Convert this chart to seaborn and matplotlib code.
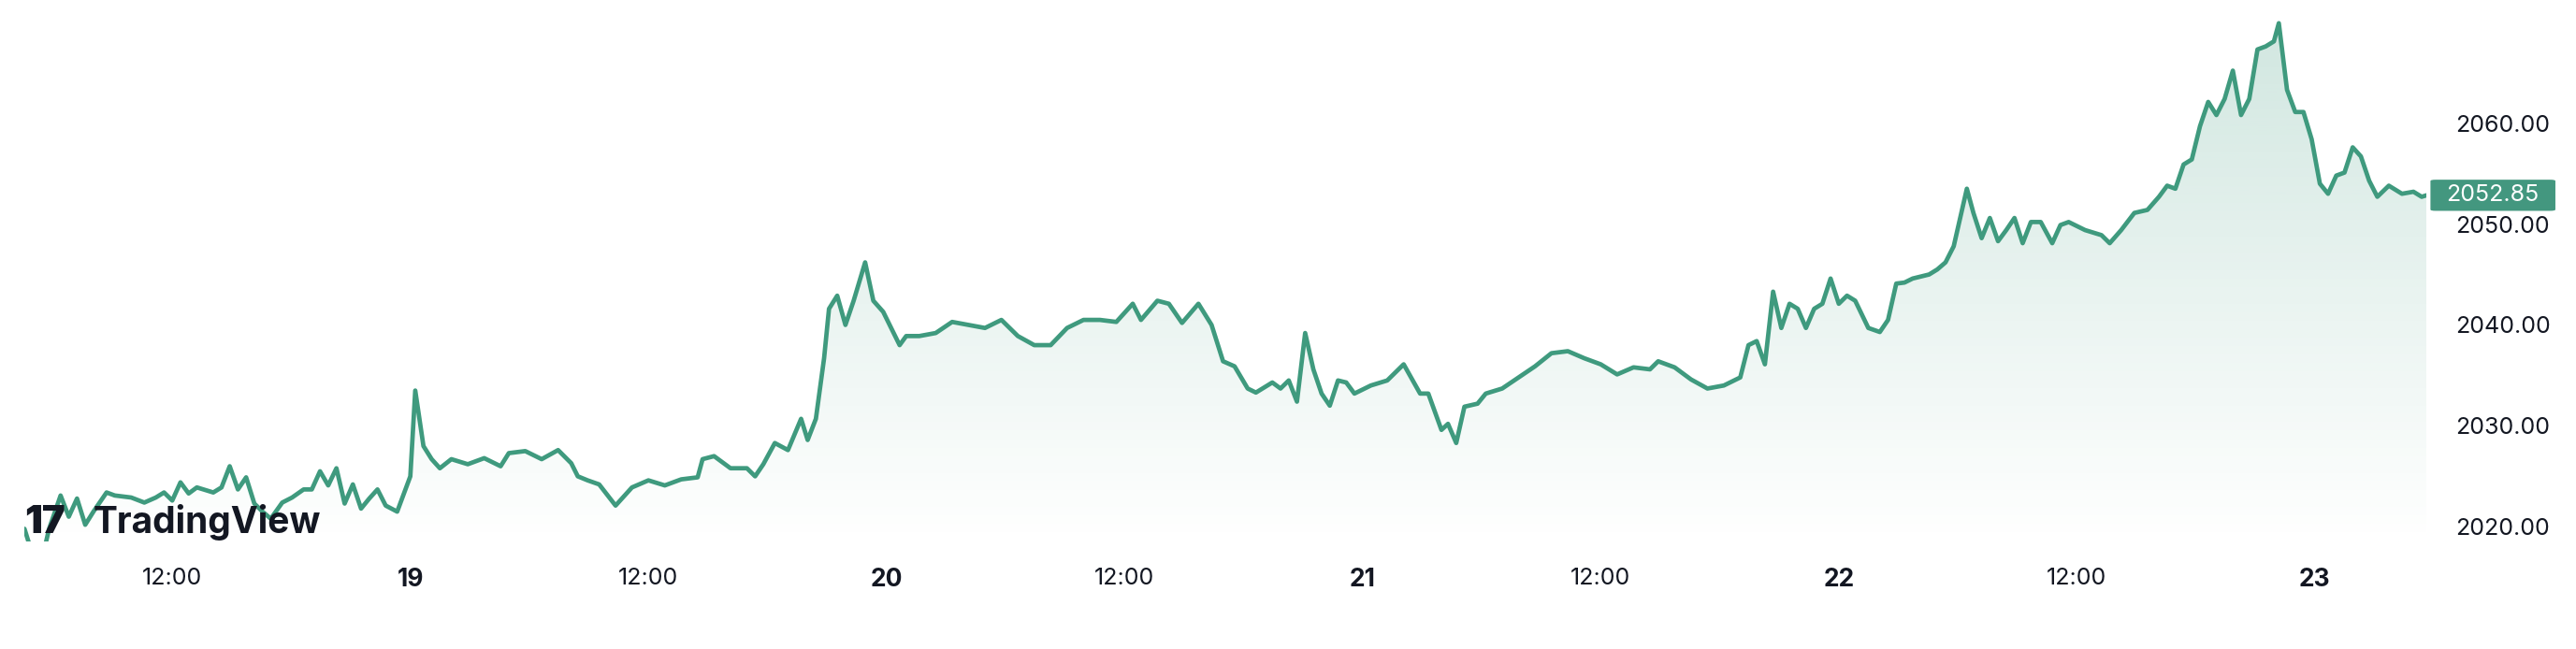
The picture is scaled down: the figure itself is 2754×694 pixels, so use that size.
import numpy as np
import pandas as pd
import matplotlib
matplotlib.use("Agg")
import matplotlib.pyplot as plt
import matplotlib.dates as mdates
from matplotlib.patches import Polygon, FancyBboxPatch
import seaborn as sns

prices = [
2019.8,2017.2,2017.7,2019.8,2023.1,2021.0,2022.8,2020.2,2021.5,2023.4,2023.1,2022.9,2022.4,2022.9,2023.4,2022.6,
2024.4,2023.3,2023.9,2023.4,2023.9,2026.0,2023.7,2024.9,2022.3,2021.5,2020.8,2022.4,2022.9,2023.7,2023.7,2025.5,
2024.1,2025.8,2022.3,2024.2,2021.8,2022.8,2023.7,2022.1,2021.5,2025.0,2033.5,2028.0,2026.7,2025.8,2026.7,2026.2,
2026.8,2026.0,2027.3,2027.5,2026.7,2027.6,2026.3,2025.0,2024.6,2024.2,2022.1,2023.9,2024.6,2024.1,2024.7,2024.9,
2026.7,2027.0,2025.8,2025.8,2025.0,2026.2,2028.3,2027.6,2030.7,2028.6,2030.7,2036.7,2041.6,2042.9,2040.0,2042.4,
2046.2,2042.4,2041.3,2038.0,2038.9,2038.9,2039.2,2040.3,2040.0,2039.7,2040.5,2038.9,2038.0,2038.0,2039.7,2040.5,
2040.5,2040.3,2042.1,2040.5,2042.4,2042.1,2040.2,2042.1,2040.0,2036.4,2035.9,2033.7,2033.3,2034.3,2033.7,2034.5,
2032.4,2039.2,2035.6,2033.2,2032.0,2034.5,2034.3,2033.2,2034.0,2034.5,2036.1,2033.2,2033.2,2029.6,2030.2,2028.3,
2031.9,2032.2,2033.2,2033.7,2034.8,2035.9,2037.2,2037.4,2036.7,2036.1,2035.1,2035.8,2035.6,2036.4,2035.8,2034.6,
2033.7,2034.0,2034.8,2038.0,2038.4,2036.1,2043.3,2039.7,2042.1,2041.6,2039.7,2041.6,2042.1,2044.6,2042.1,2042.9,
2042.4,2039.7,2039.3,2040.5,2044.1,2044.2,2044.6,2045.0,2045.5,2046.2,2047.8,2053.5,2051.1,2048.6,2050.6,2048.3,
2049.4,2050.6,2048.1,2050.2,2050.2,2048.1,2049.9,2050.2,2049.4,2048.9,2048.1,2049.4,2051.1,2051.4,2052.7,2053.8,
2053.5,2055.9,2056.4,2059.7,2062.1,2060.8,2062.4,2065.2,2060.8,2062.4,2067.3,2067.6,2068.1,2069.9,2063.3,2061.1,
2061.1,2058.4,2054.0,2053.0,2054.8,2055.1,2057.6,2056.7,2054.3,2052.7,2053.8,2053.0,2053.2,2052.7,2052.85]
# sample times, in units where 290 = one day, counted from 2024-01-18 00:00 minus offset
elapsed = [
15,20,27,30,37,42,47,52,57,65,70,80,88,95,100,105,110,115,120,130,135,140,145,150,155,160,165,172,178,185,190,195,
200,205,210,215,220,225,230,235,242,250,253,258,263,268,275,285,295,305,310,320,330,340,348,352,358,365,375,385,395,405,
415,425,428,435,445,455,460,465,472,480,488,492,497,502,505,510,515,520,527,532,538,548,552,560,570,580,590,600,610,620,
630,640,650,660,670,680,690,695,705,712,720,730,738,745,752,760,765,775,780,785,790,795,800,805,810,815,820,825,835,845,
855,865,870,878,882,887,892,900,905,915,925,935,945,955,965,975,985,995,1005,1010,1020,1030,1040,1050,1060,1065,1070,1075,
1080,1085,1090,1095,1100,1105,1110,1115,1120,1125,1130,1138,1145,1150,1155,1160,1165,1175,1180,1185,1190,1198,1202,1207,
1212,1217,1222,1227,1232,1237,1243,1250,1255,1260,1270,1280,1285,1292,1300,1308,1315,1320,1325,1330,1335,1340,1345,1350,
1355,1360,1365,1370,1375,1380,1385,1388,1393,1398,1403,1408,1413,1418,1423,1428,1433,1438,1443,1448,1455,1463,1470,1475,1478]
day19_mark = 250
units_per_day = 290
yticks = [2020, 2030, 2040, 2050, 2060]
last_label = "2052.85"

n = min(len(prices), len(elapsed))
base = pd.Timestamp("2024-01-19 00:00")
times = [base + pd.to_timedelta((e - day19_mark) / units_per_day, unit="D") for e in elapsed[:n]]
df = pd.DataFrame({"time": times, "price": prices[:n]})

LINE = "#3f9a7e"
sns.set_style("white")
plt.rcParams["font.family"] = ["Inter", "DejaVu Sans"]

fig = plt.figure(figsize=(27.54, 6.94), dpi=100)
ax = fig.add_axes([0.0095, 0.165, 0.9325, 0.835])
ymin, ymax = 2018.5, 2072.2

sns.lineplot(data=df, x="time", y="price", ax=ax, color=LINE, linewidth=3.4)

xn = mdates.date2num(df["time"])
pv = df["price"].to_numpy()
rgba = np.zeros((256, 1, 4))
rgba[..., 0], rgba[..., 1], rgba[..., 2] = 0x3f/255, 0x9a/255, 0x7e/255
rgba[:, 0, 3] = np.linspace(0.24, 0.0, 256)
im = ax.imshow(rgba, aspect="auto", extent=[xn[0], xn[-1], ymin, pv.max()], origin="upper", zorder=1)
poly = Polygon(np.column_stack([np.r_[xn[0], xn, xn[-1]], np.r_[ymin, pv, ymin]]),
               closed=True, transform=ax.transData, facecolor="none", edgecolor="none")
ax.add_patch(poly)
im.set_clip_path(poly)

ax.set_xlim(xn[0], xn[-1])
ax.set_ylim(ymin, ymax)
ax.set_xlabel(""); ax.set_ylabel("")
for s in ax.spines.values():
    s.set_visible(False)
ax.yaxis.tick_right()
ax.set_yticks(yticks)
ax.set_yticklabels([f"{v:.2f}" for v in yticks], fontsize=18, color="#131722")
ax.tick_params(axis="y", length=0, pad=22)
ax.xaxis.set_major_locator(mdates.HourLocator(byhour=[0, 12]))
ax.tick_params(axis="x", length=0, pad=20, labelsize=18, labelcolor="#131722")
locs = ax.get_xticks()
labels = []
for l in locs:
    d = mdates.num2date(l)
    labels.append(str(d.day) if d.hour == 0 else "12:00")
ax.set_xticks(locs)
ax.set_xticklabels(labels)
for t in ax.get_xticklabels():
    if t.get_text() != "12:00":
        t.set_fontweight("bold")
        t.set_fontsize(19)
ax.set_xlim(xn[0], xn[-1])

# last price tag
fig.canvas.draw()
tag_y = ax.transData.transform((0, pv[-1]))[1] / fig.bbox.height
fig.patches.append(FancyBboxPatch((0.9435, tag_y - 0.024), 0.0485, 0.048, boxstyle="round,pad=0,rounding_size=0.002",
                                  transform=fig.transFigure, facecolor="#43977f", edgecolor="none"))
fig.text(0.9675, tag_y, last_label, color="white", fontsize=18, ha="center", va="center")

# logo
fig.text(0.0095, 0.195, "17", fontsize=30, fontweight="black", color="#131722", va="center")
fig.text(0.036, 0.195, "TradingView", fontsize=28, fontweight="bold", color="#131722", va="center")

fig.savefig("out.png", dpi=100, facecolor="white")
